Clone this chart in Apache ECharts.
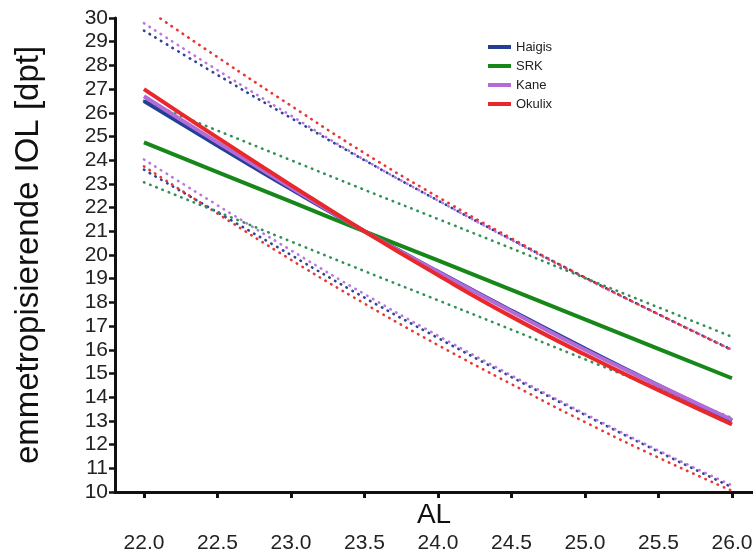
<!DOCTYPE html>
<html>
<head>
<meta charset="utf-8">
<script src="https://cdn.jsdelivr.net/npm/echarts@6/dist/echarts.min.js"></script>
<style>
  html, body { margin: 0; padding: 0; background: #fff; }
  #main { width: 753px; height: 556px; }
</style>
</head>
<body>
<div id="main"></div>
<script>
// AL values (x)
var alValues = [22.0, 22.5, 23.0, 23.5, 24.0, 24.5, 25.0, 25.5, 26.0];
var xTicks = [22.0, 22.5, 23.0, 23.5, 24.0, 24.5, 25.0, 25.5, 26.0];

// fitted lines
var haigis = [26.5, 24.62, 22.78, 21.0, 19.3, 17.65, 16.05, 14.5, 13.0];
var srk    = [24.75, 23.5, 22.25, 21.0, 19.77, 18.53, 17.28, 16.04, 14.8];
var kane   = [26.7, 24.75, 22.85, 21.0, 19.28, 17.62, 16.0, 14.5, 13.05];
var okulix = [27.0, 24.95, 22.95, 21.0, 19.15, 17.4, 15.8, 14.3, 12.85];

// dotted bands (upper / lower)
var haigisHi = [29.47, 27.6, 25.78, 24.0, 22.3, 20.65, 19.05, 17.5, 16.0];
var haigisLo = [23.6, 21.8, 20.0, 18.2, 16.5, 14.85, 13.25, 11.7, 10.2];
var srkHi    = [26.5, 25.25, 24.0, 22.75, 21.52, 20.28, 19.03, 17.79, 16.55];
var srkLo    = [23.07, 21.82, 20.57, 19.32, 18.09, 16.85, 15.6, 14.36, 13.12];
var kaneHi   = [29.78, 27.8, 25.88, 24.02, 22.3, 20.63, 19.02, 17.5, 16.0];
var kaneLo   = [24.03, 22.1, 20.2, 18.35, 16.6, 14.92, 13.3, 11.75, 10.28];
var okulixHi = [30.45, 28.35, 26.3, 24.3, 22.45, 20.7, 19.05, 17.5, 15.98];
var okulixLo = [23.74, 21.75, 19.8, 17.95, 16.2, 14.55, 12.95, 11.45, 10.05];

var names = ['Haigis', 'SRK', 'Kane', 'Okulix'];
var colors = ['#233f94', '#17871a', '#b36bd9', '#e8282b'];
var dotColors = ['#2c4596', '#2f9155', '#b878dc', '#ec3535'];

function pairs(ys) {
    return alValues.map(function (x, i) { return [x, ys[i]]; });
}

function dotted(name, ys, color) {
    return {
        name: name,
        type: 'line',
        data: pairs(ys),
        smooth: true,
        showSymbol: false,
        silent: true,
        clip: true,
        lineStyle: { color: color, width: 2.6, type: [0.5, 6.2], cap: 'round' },
        z: 2
    };
}

function solid(name, ys, color) {
    return {
        name: name,
        type: 'line',
        data: pairs(ys),
        smooth: true,
        showSymbol: false,
        clip: true,
        itemStyle: { color: color },
        lineStyle: { color: color, width: 4 },
        z: 3
    };
}

var series = [
    dotted('Haigis_hi', haigisHi, dotColors[0]),
    dotted('Haigis_lo', haigisLo, dotColors[0]),
    dotted('Kane_hi', kaneHi, dotColors[2]),
    dotted('Kane_lo', kaneLo, dotColors[2]),
    dotted('Okulix_hi', okulixHi, dotColors[3]),
    dotted('Okulix_lo', okulixLo, dotColors[3]),
    dotted('SRK_hi', srkHi, dotColors[1]),
    dotted('SRK_lo', srkLo, dotColors[1]),
    solid('Haigis', haigis, colors[0]),
    solid('SRK', srk, colors[1]),
    solid('Kane', kane, colors[2]),
    solid('Okulix', okulix, colors[3])
];

var chart = echarts.init(document.getElementById('main'));
var option = {
    animation: false,
    textStyle: { fontFamily: 'Liberation Sans, Arial, sans-serif' },
    legend: {
        data: names,
        orient: 'vertical',
        left: 483,
        top: 35,
        icon: 'rect',
        itemWidth: 23,
        itemHeight: 4,
        itemGap: 5,
        textStyle: { fontSize: 13, color: '#222', lineHeight: 14 }
    },
    grid: {
        left: 115,
        right: 0,
        top: 18,
        bottom: 64,
        outerBoundsMode: 'none'
    },
    xAxis: {
        type: 'value',
        min: 21.803,
        max: 26.143,
        name: 'AL',
        nameLocation: 'middle',
        nameGap: 9,
        nameMoveOverlap: false,
        nameTextStyle: { fontSize: 28, color: '#111' },
        splitLine: { show: false },
        axisLine: { lineStyle: { color: '#111', width: 3 } },
        axisTick: {
            customValues: xTicks,
            length: 6,
            lineStyle: { color: '#111', width: 3 }
        },
        axisLabel: {
            customValues: xTicks,
            margin: 41,
            fontSize: 21,
            color: '#222',
            formatter: function (v) { return v.toFixed(1); }
        }
    },
    yAxis: {
        type: 'value',
        min: 10,
        max: 30,
        interval: 1,
        name: 'emmetropisierende IOL [dpt]',
        nameLocation: 'middle',
        nameRotate: 90,
        nameGap: 70,
        nameMoveOverlap: false,
        nameTextStyle: { fontSize: 33, color: '#111' },
        splitLine: { show: false },
        axisLine: { show: true, lineStyle: { color: '#111', width: 3 } },
        axisTick: { show: true, length: 6, lineStyle: { color: '#111', width: 2.5 } },
        axisLabel: { margin: 7, fontSize: 21, color: '#222' }
    },
    series: series
};
chart.setOption(option);
</script>
</body>
</html>
